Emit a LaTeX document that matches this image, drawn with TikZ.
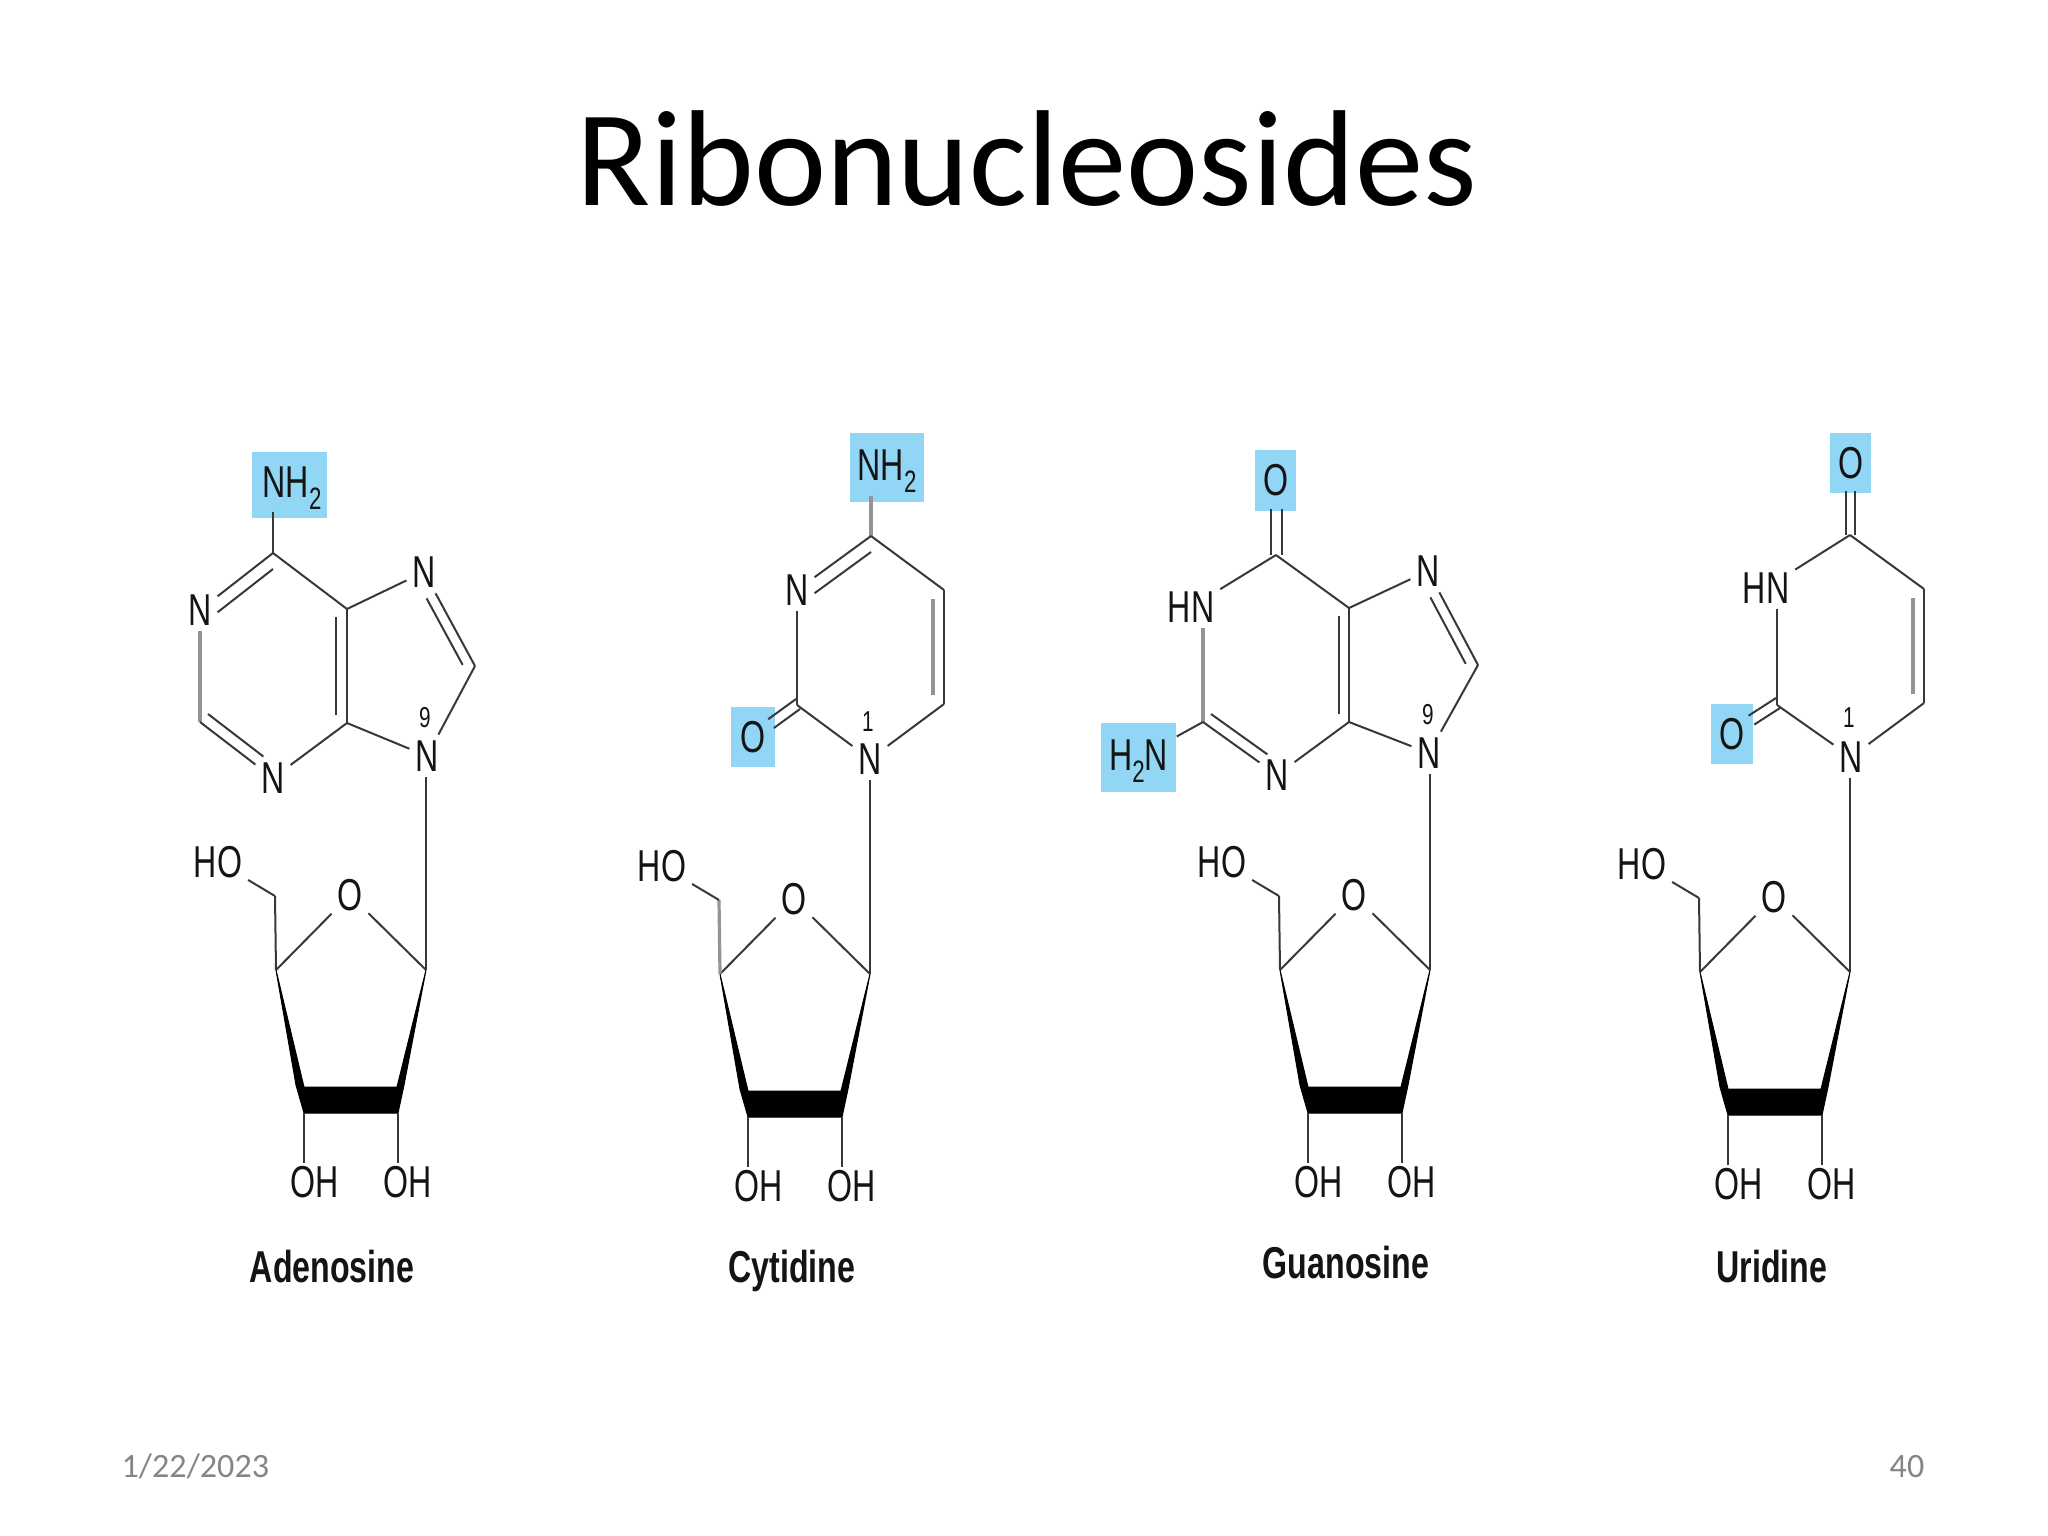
\documentclass[tikz,border=0pt]{standalone}
\usepackage{fontspec}
\setmainfont{Carlito}
\newfontfamily\chem[FakeStretch=0.72]{Liberation Sans}
\definecolor{hlblue}{HTML}{91D6F5}
\definecolor{datagray}{HTML}{858585}
\newcommand{\subtwo}{\raisebox{-1.2mm}[0pt][0.5mm]{\fontsize{8.8}{10}\selectfont 2}}
\tikzset{
	atom/.style={font=\chem\fontsize{12.7}{15}\selectfont,text=black!92,inner sep=1.5pt},
	numlab/.style={font=\chem\fontsize{8.2}{9}\selectfont,text=black!92,inner sep=0pt},
	molname/.style={anchor=base,font=\chem\bfseries\fontsize{12.7}{15}\selectfont,text=black!92,inner sep=0pt},
	hlbox/.style n args={2}{atom,fill=hlblue,inner sep=0pt,minimum width=#1,minimum height=#2},
	bond/.style={draw=black!78,line width=0.2mm},
	bondlt/.style={draw=black!42,line width=0.32mm},
	inbond/.style={bond,transform canvas={shift={#1}}},
	inbondlt/.style={bondlt,transform canvas={shift={#1}}},
}
% sugar ring: prefix, dx, dy, style of the C4'-C5' bond
\newcommand{\sugar}[4]{
	\begin{scope}[shift={(#2,#3)}]
	\coordinate (#1r1) at (426,970);
	\coordinate (#1r4) at (276,970);
	\coordinate (#1r5) at (275,896);
	\coordinate (#1b2) at (304,1113);
	\coordinate (#1b3) at (398,1113);
	\node[atom] (#1ro) at (350,895) {O};
	\node[atom] (#1ho) at (218,862) {HO};
	\node[atom] (#1oh2) at (315,1182) {OH};
	\node[atom] (#1oh3) at (408,1182) {OH};
	\draw[bond] (#1r4)--(#1ro);	\draw[bond] (#1ro)--(#1r1);
	\draw[#4] (#1r4)--(#1r5);	\draw[bond] (#1r5)--(#1ho);
	\filldraw[black,line width=0.1mm] (#1r4)--(296,1085)--(#1b2)--(#1b3)--(404,1085)--(#1r1)--(397,1087)--(304,1087)--cycle;
	\draw[bond,shorten >=-0.3mm] (#1b2)--(#1b2 |- #1oh2.north);
	\draw[bond,shorten >=-0.3mm] (#1b3)--(#1b3 |- #1oh3.north);
	\end{scope}
}
\begin{document}
\begin{tikzpicture}[x=0.01cm,y=-0.01cm]
	\useasboundingbox (0,0) rectangle (2048,1536);
	\node[anchor=base,font=\fontsize{38.85}{46}\selectfont,inner sep=0pt] (title) at (1027,205) {Ribonucleosides};
	\node[anchor=base west,font=\fontsize{9.7}{12}\selectfont,text=datagray,inner sep=0pt] (date) at (121,1477) {1/22/2023};
	\node[anchor=base east,font=\fontsize{9.7}{12}\selectfont,text=datagray,inner sep=0pt] (page) at (1925,1477) {40};
	
	% Adenosine
	\node[hlbox={7.5mm}{6.6mm}] (an6) at (289.5,485) {\hspace*{0.5mm}NH\subtwo};
	\coordinate (ac6) at (273,553);
	\coordinate (ac2) at (200,722);
	\coordinate (ac4) at (347,723);
	\coordinate (ac5) at (347,609);
	\coordinate (ac8) at (475,666);
	\node[atom] (an1) at (200,610) {N};
	\node[atom] (an3) at (273,778) {N};
	\node[atom] (an7) at (424,572) {N};
	\node[atom] (an9) at (427,756) {N};
	\node[numlab] (anum) at (425,718) {9};
	\draw[bond,shorten <=-0.7mm] (ac6 |- an6.south)--(ac6);
	\draw[bond] (ac6)--(an1);	\draw[inbond={(0,16)}] (ac6)--(an1);
	\draw[bondlt] (an1)--(ac2);
	\draw[bond] (ac2)--(an3);	\draw[inbond={(8,-8)}] (ac2)--(an3);
	\draw[bond] (an3)--(ac4);
	\draw[bond] (ac4)--(ac5);	\draw[inbond={(-11,0)},shorten <=0.8mm,shorten >=0.8mm] (ac4)--(ac5);
	\draw[bond] (ac5)--(ac6);	\draw[bond] (ac5)--(an7);
	\draw[bond] (an7)--(ac8);	\draw[inbond={(-9,5)},shorten >=0.7mm] (an7)--(ac8);
	\draw[bond] (ac8)--(an9);	\draw[bond] (ac4)--(an9);
	\sugar{a}{0}{0}{bond}
	\draw[bond] (ar1 |- an9.south)--(ar1);
	\node[molname] (aname) at (332,1282) {Adenosine};
	
	% Cytidine
	\node[hlbox={7.4mm}{6.9mm}] (cn4) at (887,467.5) {NH\subtwo};
	\node[hlbox={4.4mm}{6mm}] (co2) at (753,737) {O};
	\coordinate (cc4) at (871,536);
	\coordinate (cc2) at (797,705);
	\coordinate (cc5) at (944,590);
	\coordinate (cc6) at (944,704);
	\node[atom] (cn3) at (797,590) {N};
	\node[atom] (cn1) at (870,759) {N};
	\node[numlab] (cnum) at (868,722) {1};
	\draw[bondlt,shorten <=-0.7mm] (cc4 |- cn4.south)--(cc4);
	\draw[bond] (cc4)--(cn3);	\draw[inbond={(0,16)}] (cc4)--(cn3);
	\draw[bond] (cn3)--(cc2);
	\draw[bond,shorten >=-0.8mm,transform canvas={shift={(-1,-6)}}] (cc2)--(co2);
	\draw[bond,shorten >=-0.6mm,transform canvas={shift={(3,4)}}] (cc2)--(co2);
	\draw[bond] (cc2)--(cn1);	\draw[bond] (cc6)--(cn1);
	\draw[bond] (cc6)--(cc5);	\draw[inbondlt={(-11,0)},shorten <=0.9mm,shorten >=0.9mm] (cc6)--(cc5);
	\draw[bond] (cc5)--(cc4);
	\sugar{c}{444}{4}{bondlt}
	\draw[bond] (cr1 |- cn1.south)--(cr1);
	\node[molname] (cname) at (792,1282) {Cytidine};
	
	% Guanosine
	\node[hlbox={4.1mm}{6.1mm}] (go6) at (1275.5,480.5) {O};
	\node[hlbox={7.5mm}{6.9mm}] (gn2) at (1138.5,757.5) {H\subtwo N};
	\coordinate (gc6) at (1276,555);
	\coordinate (gc2) at (1203,722);
	\coordinate (gc4) at (1349,722);
	\coordinate (gc5) at (1349,608);
	\coordinate (gc8) at (1478,665);
	\node[atom] (gn1) at (1191,607) {HN};
	\node[atom] (gn3) at (1277,775) {N};
	\node[atom] (gn7) at (1428,571) {N};
	\node[atom] (gn9) at (1429,753) {N};
	\node[numlab] (gnum) at (1428,715) {9};
	\draw[inbond={(-5.5,0)},shorten <=-0.3mm] (gc6 |- go6.south)--(gc6);
	\draw[inbond={(5.5,0)},shorten <=-0.3mm] (gc6 |- go6.south)--(gc6);
	\draw[bond] (gc6)--(gn1);	\draw[bondlt] (gn1.south -| gc2)--(gc2);
	\draw[bond] (gc2)--(gn2);
	\draw[bond] (gc2)--(gn3);	\draw[inbond={(8,-8)}] (gc2)--(gn3);
	\draw[bond] (gn3)--(gc4);
	\draw[bond] (gc4)--(gc5);	\draw[inbond={(-10,0)},shorten <=0.8mm,shorten >=0.8mm] (gc4)--(gc5);
	\draw[bond] (gc5)--(gc6);	\draw[bond] (gc5)--(gn7);
	\draw[bond] (gn7)--(gc8);	\draw[inbond={(-9,5)},shorten >=0.7mm] (gn7)--(gc8);
	\draw[bond] (gc8)--(gn9);	\draw[bond] (gc4)--(gn9);
	\sugar{g}{1004}{0}{bond}
	\draw[bond] (gr1 |- gn9.south)--(gr1);
	\node[molname] (gname) at (1346,1278) {Guanosine};
	
	% Uridine
	\node[hlbox={4.1mm}{6mm}] (uo4) at (1850.5,463) {O};
	\node[hlbox={4.2mm}{6mm}] (uo2) at (1732,734) {O};
	\coordinate (uc4) at (1850,535);
	\coordinate (uc2) at (1777,705);
	\coordinate (uc5) at (1924,589);
	\coordinate (uc6) at (1924,703);
	\node[atom] (un3) at (1766,588) {HN};
	\node[atom] (un1) at (1851,757) {N};
	\node[numlab] (unum) at (1849,718) {1};
	\draw[inbond={(-4.5,0)},shorten <=-0.3mm] (uc4 |- uo4.south)--(uc4);
	\draw[inbond={(4.5,0)},shorten <=-0.3mm] (uc4 |- uo4.south)--(uc4);
	\draw[bond] (uc4)--(un3);	\draw[bond] (un3.south -| uc2)--(uc2);
	\draw[bond,shorten >=-0.5mm,transform canvas={shift={(-1,-7)}}] (uc2)--(uo2);
	\draw[bond,shorten >=-0.3mm,transform canvas={shift={(3,3)}}] (uc2)--(uo2);
	\draw[bond] (uc2)--(un1);	\draw[bond] (uc6)--(un1);
	\draw[bond] (uc6)--(uc5);	\draw[inbondlt={(-11,0)},shorten <=0.9mm,shorten >=0.9mm] (uc6)--(uc5);
	\draw[bond] (uc5)--(uc4);
	\sugar{u}{1424}{2}{bond}
	\draw[bond] (ur1 |- un1.south)--(ur1);
	\node[molname] (uname) at (1772,1282) {Uridine};
\end{tikzpicture}
\end{document}
